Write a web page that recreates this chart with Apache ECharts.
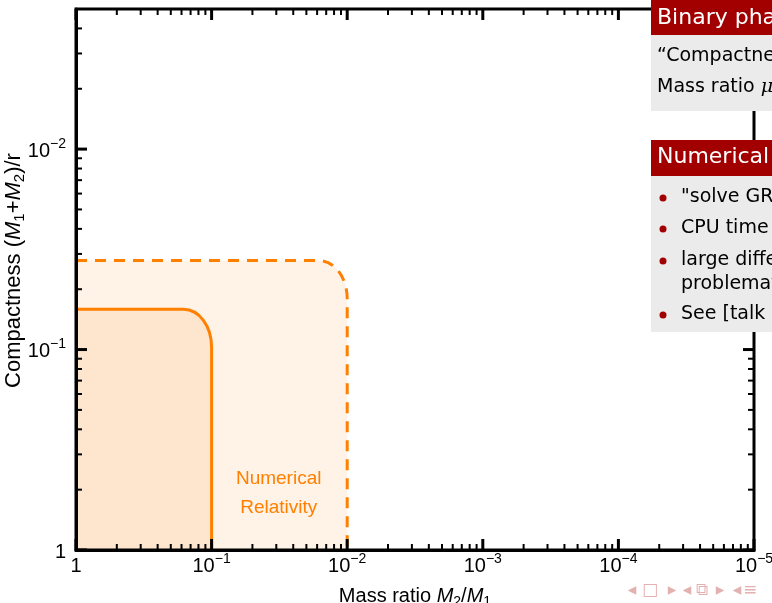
<!DOCTYPE html>
<html><head><meta charset="utf-8">
<script src="https://cdn.jsdelivr.net/npm/echarts@6/dist/echarts.min.js"></script>
<style>html,body{margin:0;padding:0;background:#fff;overflow:hidden}#c{width:772px;height:603px}</style>
</head><body><div id="c"></div>
<script>
// ---------- data ----------
const xMajorTicks = [1, 0.1, 0.01, 0.001, 0.0001, 0.00001];
const yMajorTicks = [1, 0.1, 0.01];
const minorFactors = [1/2, 1/3, 1/4, 1/5, 1/6, 1/7, 1/8, 1/9];
const xMinorDecades = [1, 0.1, 0.01, 0.001, 0.0001];
const yMinorDecades = [1, 0.1, 0.01];
const xRange = [0.00001, 1];
const yRange = [0.002, 1];
// regions: mass-ratio limit and compactness limit
const regionNames = ['NR extended', 'NR'];
const regionMassRatio = [0.01, 0.1];
const regionCompactness = [0.036, 0.063];
const regionFill = ['#fff2e6', '#fee5cd'];
const regionDashed = [true, false];
const nrLabelText = ['Numerical', 'Relativity'];
const nrLabelPos = [0.032, 0.52];
// slide blocks
const block1Title = 'Binary phase space';
const block1Lines = ['\u201cCompactness\u201d (M\u2081+M\u2082)/r'];
const block2Title = 'Numerical Relativity';
const block2Bullets = ['"solve GR equations numerically"', 'CPU time scales badly', 'large differences in scales', 'See [talk by others]'];
const navSymbols = [['\u25C2', 632], ['\u25A1', 650], ['\u25B8', 672], ['\u25C2', 687], ['\u29C9', 702], ['\u25B8', 720], ['\u25C2', 737], ['\u2261', 750]];

// ---------- helpers ----------
function decadeLabel(v) {
  const l = Math.log10(v), e = Math.round(l);
  if (Math.abs(l - e) > 1e-6) return '';
  if (e === 0) return '{b|1}';
  return '{b|10}{s|\u2212' + (-e) + '}';
}
const FONT = 'Liberation Sans';
const labelRich = {
  b: {fontSize: 20, fontFamily: FONT, color: '#000', lineHeight: 24, verticalAlign: 'bottom'},
  s: {fontSize: 14, fontFamily: FONT, color: '#000', lineHeight: 24, verticalAlign: 'top'}
};
function makeNameRich(fs, ss) {
  return {
    t: {fontSize: fs, fontFamily: FONT, color: '#000', lineHeight: 26, verticalAlign: 'middle'},
    i: {fontSize: fs, fontFamily: FONT, color: '#000', fontStyle: 'italic', lineHeight: 26, verticalAlign: 'middle'},
    sub: {fontSize: ss, fontFamily: FONT, color: '#000', lineHeight: 26, verticalAlign: 'bottom'}
  };
}

const tickData = [];
xMajorTicks.forEach(v => tickData.push([v, 1, 0, 1]));
xMinorDecades.forEach(d => minorFactors.forEach(f => tickData.push([d * f, 1, 0, 0])));
yMajorTicks.forEach(v => tickData.push([1, v, 1, 1]));
yMinorDecades.forEach(d => minorFactors.forEach(f => { if (d * f > yRange[0] * 1.0001) tickData.push([1, d * f, 1, 0]); }));

const chart = echarts.init(document.getElementById('c'), null, {renderer: 'canvas'});

const option = {
  animation: false,
  backgroundColor: '#fff',
  grid: {left: 76, right: 18, top: 9, bottom: 53, containLabel: false, outerBoundsMode: 'none', show: true, borderColor: '#000', borderWidth: 3, z: 20, backgroundColor: 'transparent'},
  xAxis: {
    type: 'log', logBase: 10, min: xRange[0], max: xRange[1], inverse: true, z: 20,
    axisLine: {show: true, onZero: false, lineStyle: {color: '#000', width: 3}},
    axisTick: {show: false}, minorTick: {show: false},
    splitLine: {show: false}, minorSplitLine: {show: false},
    axisLabel: {formatter: decadeLabel, margin: 2, rich: labelRich, color: '#000', hideOverlap: false},
    name: '{t|Mass ratio }{i|M}{sub|2}{t|/}{i|M}{sub|1}',
    nameLocation: 'middle', nameGap: 33, nameMoveOverlap: false, nameTextStyle: {rich: makeNameRich(20, 14)}
  },
  yAxis: {
    type: 'log', logBase: 10, min: yRange[0], max: yRange[1], inverse: true, z: 20,
    axisLine: {show: true, onZero: false, lineStyle: {color: '#000', width: 3}},
    axisTick: {show: false}, minorTick: {show: false},
    splitLine: {show: false}, minorSplitLine: {show: false},
    axisLabel: {formatter: decadeLabel, margin: 10, rich: labelRich, color: '#000', hideOverlap: false},
    name: '{t|Compactness (}{i|M}{sub|1}{t|+}{i|M}{sub|2}{t|)/r}',
    nameLocation: 'middle', nameGap: 49, nameMoveOverlap: false, nameTextStyle: {rich: makeNameRich(22, 15), padding: [0, 0, 0, 18]}
  },
  series: [
    {
      type: 'custom', name: 'regions', coordinateSystem: 'cartesian2d', z: 2,
      data: regionMassRatio.map((q, i) => [q, regionCompactness[i], i]),
      renderItem(params, api) {
        const i = api.value(2);
        const o = api.coord([xRange[1], yRange[1]]);
        const p = api.coord([api.value(0), api.value(1)]);
        const rx = 28, ry = 38, k = 0.5523;
        const corner = `L${p[0] - rx} ${p[1]} C${p[0] - rx + k * rx} ${p[1]} ${p[0]} ${p[1] + ry - k * ry} ${p[0]} ${p[1] + ry}`;
        const fillPath = `M${o[0]} ${o[1]} L${o[0]} ${p[1]} ${corner} L${p[0]} ${o[1]} Z`;
        const strokePath = `M${o[0]} ${p[1]} ${corner} L${p[0]} ${o[1]}`;
        return {
          type: 'group',
          children: [
            {type: 'path', shape: {pathData: fillPath}, style: {fill: regionFill[i], stroke: null}},
            {type: 'path', shape: {pathData: strokePath}, style: {fill: null, stroke: '#ff8000', lineWidth: 3, lineDash: regionDashed[i] ? [11, 8] : null}}
          ]
        };
      }
    },
    {
      type: 'custom', name: 'label', coordinateSystem: 'cartesian2d', z: 3,
      data: [nrLabelPos],
      renderItem(params, api) {
        const p = api.coord([api.value(0), api.value(1)]);
        return {
          type: 'text', x: p[0], y: p[1],
          style: {text: nrLabelText.join('\n'), fill: '#ff8000', fontSize: 19, fontFamily: FONT, align: 'center', verticalAlign: 'middle', lineHeight: 29}
        };
      }
    },
    {
      type: 'custom', name: 'ticks', coordinateSystem: 'cartesian2d', z: 5,
      data: tickData,
      renderItem(params, api) {
        const cs = params.coordSys;
        const p = api.coord([api.value(0), api.value(1)]);
        const major = api.value(3) === 1;
        const len = major ? 11 : 6, lw = major ? 3 : 2;
        const st = {stroke: '#000', lineWidth: lw};
        if (api.value(2) === 0) {
          const b = cs.y + cs.height, t = cs.y;
          return {type: 'group', children: [
            {type: 'line', shape: {x1: p[0], y1: b, x2: p[0], y2: b - len}, style: st},
            {type: 'line', shape: {x1: p[0], y1: t, x2: p[0], y2: t + len}, style: st}
          ]};
        }
        const l = cs.x, r = cs.x + cs.width;
        return {type: 'group', children: [
          {type: 'line', shape: {x1: l, y1: p[1], x2: l + len, y2: p[1]}, style: st},
          {type: 'line', shape: {x1: r, y1: p[1], x2: r - len, y2: p[1]}, style: st}
        ]};
      }
    }
  ],
  graphic: {elements: []}
};

// slide blocks (beamer-like) drawn over the chart
const RED = '#a20000', GREY = '#ebebeb', SF = 'DejaVu Sans';
const g = option.graphic.elements;
g.push({type: 'rect', z: 100, shape: {x: 651, y: 0, width: 140, height: 35}, style: {fill: RED}});
g.push({type: 'text', z: 101, x: 657, y: 18, style: {text: block1Title, fill: '#fff', fontSize: 22, fontFamily: SF, verticalAlign: 'middle'}});
g.push({type: 'rect', z: 100, shape: {x: 651, y: 35, width: 140, height: 76}, style: {fill: GREY}});
g.push({type: 'text', z: 101, x: 657, y: 56, style: {text: block1Lines[0], fill: '#000', fontSize: 19, fontFamily: SF, verticalAlign: 'middle'}});
g.push({type: 'text', z: 101, x: 657, y: 87, style: {text: '{t|Mass ratio }{m|\u03bc}{t| = M\u2082/M\u2081}', fill: '#000', fontSize: 19, fontFamily: SF, verticalAlign: 'middle',
  rich: {t: {fontSize: 19, fontFamily: SF, fill: '#000'}, m: {fontSize: 19, fontFamily: 'DejaVu Serif', fontStyle: 'italic', fill: '#000'}}}});
g.push({type: 'rect', z: 100, shape: {x: 651, y: 140, width: 140, height: 36}, style: {fill: RED}});
g.push({type: 'text', z: 101, x: 657, y: 157, style: {text: block2Title, fill: '#fff', fontSize: 22, fontFamily: SF, verticalAlign: 'middle'}});
g.push({type: 'rect', z: 100, shape: {x: 651, y: 176, width: 140, height: 156}, style: {fill: GREY}});
const bulletY = [197, 228, 260, 314];
block2Bullets.forEach((t, i) => {
  g.push({type: 'circle', z: 101, shape: {cx: 663, cy: bulletY[i] + 1, r: 3.5}, style: {fill: RED}});
  let txt = t;
  if (i === 2) txt = 'large differences in scales\nproblematic';
  g.push({type: 'text', z: 101, x: 681, y: bulletY[i], style: {text: txt, fill: '#000', fontSize: 19, fontFamily: SF, verticalAlign: i === 2 ? 'top' : 'middle', lineHeight: 24, padding: i === 2 ? [-12, 0, 0, 0] : 0}});
});
navSymbols.forEach(([s, x]) => {
  g.push({type: 'text', z: 101, x: x, y: 591, style: {text: s, fill: '#e4b1b1', fontSize: 17, fontFamily: SF, align: 'center', verticalAlign: 'middle'}});
});

chart.setOption(option);
</script>
</body></html>
